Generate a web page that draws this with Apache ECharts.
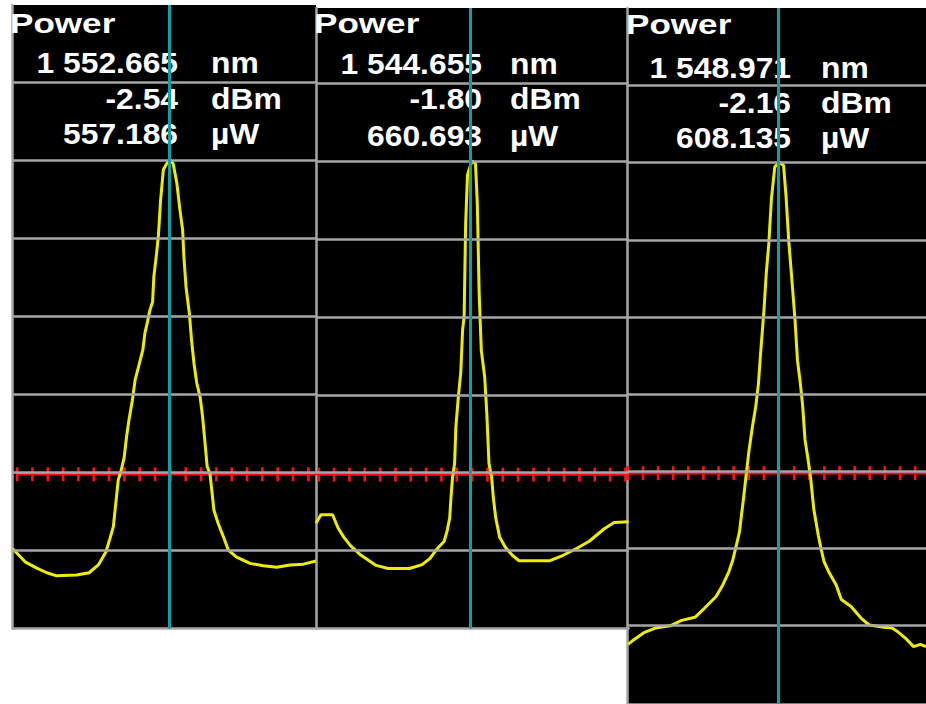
<!DOCTYPE html>
<html>
<head>
<meta charset="utf-8">
<script src="https://cdn.jsdelivr.net/npm/echarts@6/dist/echarts.min.js"></script>
<style>
  html, body { margin: 0; padding: 0; background: #ffffff; }
  #chart { width: 926px; height: 704px; }
</style>
</head>
<body>
<div id="chart"></div>
<script>
// Marker readouts for the three laser lines
const peakWavelengthNm = [1552.665, 1544.655, 1548.971];
const peakPowerDbm = [-2.54, -1.80, -2.16];
const peakPowerUw = [557.186, 660.693, 608.135];
const readoutTitle = 'Power';
const unitLabels = ['nm', 'dBm', 'µW'];

// Spectrum 1 (around 1552.665 nm)
const wavelengthP1 = [1552.150, 1552.191, 1552.229, 1552.262, 1552.294, 1552.359, 1552.400, 1552.430, 1552.455, 1552.468,
  1552.479, 1552.488, 1552.495, 1552.503, 1552.514, 1552.522, 1552.530, 1552.541, 1552.550, 1552.560,
  1552.575, 1552.582, 1552.590, 1552.598, 1552.607, 1552.611, 1552.620, 1552.626, 1552.633, 1552.642,
  1552.653, 1552.665, 1552.674, 1552.686, 1552.696, 1552.705, 1552.709, 1552.716, 1552.727, 1552.734,
  1552.742, 1552.751, 1552.762, 1552.770, 1552.778, 1552.785, 1552.794, 1552.800, 1552.807, 1552.821,
  1552.838, 1552.854, 1552.881, 1552.925, 1552.968, 1553.012, 1553.055, 1553.099, 1553.140];
const powerP1 = [-52.3, -54.0, -54.8, -55.4, -55.8, -55.7, -55.4, -54.4, -52.7, -51.0,
  -49.5, -46.1, -43.5, -42.5, -40.7, -38.0, -35.8, -33.3, -30.7, -29.2,
  -26.9, -24.7, -23.3, -21.8, -20.7, -17.5, -14.5, -12.2, -7.7, -3.8,
  -3.0, -2.54, -3.0, -5.5, -8.9, -11.5, -14.9, -18.8, -22.2, -25.6,
  -28.6, -31.1, -32.9, -35.4, -38.8, -41.8, -42.7, -44.8, -47.4, -49.1,
  -50.8, -52.5, -53.4, -54.2, -54.5, -54.7, -54.4, -54.3, -53.9];

// Spectrum 2 (around 1544.655 nm)
const wavelengthP2 = [1544.146, 1544.162, 1544.200, 1544.218, 1544.237, 1544.259, 1544.293, 1544.342, 1544.381, 1544.451,
  1544.492, 1544.518, 1544.538, 1544.564, 1544.574, 1544.582, 1544.586, 1544.591, 1544.598, 1544.602,
  1544.610, 1544.618, 1544.624, 1544.629, 1544.634, 1544.640, 1544.647, 1544.655, 1544.666, 1544.672,
  1544.678, 1544.685, 1544.696, 1544.703, 1544.710, 1544.719, 1544.724, 1544.732, 1544.745, 1544.764,
  1544.786, 1544.808, 1544.909, 1544.952, 1544.997, 1545.037, 1545.086, 1545.118, 1545.165];
const powerP2 = [-48.3, -47.2, -47.2, -48.9, -50.1, -51.2, -52.4, -53.7, -54.1, -54.1,
  -53.6, -52.8, -51.7, -50.6, -49.2, -47.6, -45.1, -42.5, -40.6, -36.0,
  -32.1, -29.0, -23.5, -21.8, -9.8, -3.6, -2.7, -1.80, -2.1, -7.2,
  -18.7, -26.1, -29.5, -34.2, -40.6, -42.5, -44.9, -47.6, -50.1, -51.4,
  -52.4, -53.1, -53.1, -52.4, -51.5, -50.6, -49.0, -48.2, -48.1];

// Spectrum 3 (around 1548.971 nm)
const wavelengthP3 = [1548.472, 1548.491, 1548.524, 1548.562, 1548.611, 1548.649, 1548.693, 1548.725, 1548.763, 1548.785,
  1548.805, 1548.818, 1548.826, 1548.840, 1548.848, 1548.856, 1548.863, 1548.872, 1548.883, 1548.894,
  1548.903, 1548.910, 1548.921, 1548.929, 1548.937, 1548.946, 1548.957, 1548.971, 1548.986, 1548.994,
  1549.003, 1549.013, 1549.024, 1549.032, 1549.041, 1549.049, 1549.057, 1549.068, 1549.076, 1549.086,
  1549.101, 1549.111, 1549.120, 1549.138, 1549.160, 1549.177, 1549.209, 1549.242, 1549.269, 1549.318,
  1549.345, 1549.361, 1549.389, 1549.416, 1549.438, 1549.457];
const powerP3 = [-64.6, -64.0, -63.1, -62.5, -62.2, -61.5, -61.1, -59.9, -58.4, -56.9,
  -55.2, -53.7, -52.4, -50.1, -47.5, -44.9, -42.4, -39.4, -36.4, -33.8,
  -30.8, -26.9, -21.4, -16.4, -12.8, -6.8, -2.7, -2.16, -2.5, -6.4,
  -12.2, -17.1, -22.6, -27.8, -30.6, -33.6, -38.1, -40.9, -43.2, -47.1,
  -50.5, -52.4, -53.9, -55.4, -56.9, -58.8, -59.7, -61.2, -62.1, -62.4,
  -62.5, -62.9, -63.8, -64.9, -64.6, -64.9];

// Ruler ticks either side of the marker, nm
const rulerOffsetsNm = [-0.50, -0.45, -0.40, -0.35, -0.30, -0.25, -0.20, -0.15, -0.10, -0.05, 0,
  0.05, 0.10, 0.15, 0.20, 0.25, 0.30, 0.35, 0.40, 0.45, 0.50];
// Graticule levels relative to the reference (peak) level, dB
const divisionLevelsDb = [10, 0, -10, -20, -30, -40, -50, -60];
const rulerLevelDb = -40.25;

const wavelengths = [wavelengthP1, wavelengthP2, wavelengthP3];
const powers = [powerP1, powerP2, powerP3];

// Screen layout of each trace window
const panels = [
  { left: 12.5, top: 5, width: 303.5, height: 623.5, xMin: 1552.150, xMax: 1553.140, above: 19.85, below: 60,
    titleX: 10, titleY: 24, numRight: 178, unitLeft: 211, rows: [63, 99, 134] },
  { left: 316, top: 8, width: 312.5, height: 620.5, xMin: 1544.146, xMax: 1545.165, above: 19.64, below: 60,
    titleX: 314, titleY: 24, numRight: 482, unitLeft: 510, rows: [64, 99, 136] },
  { left: 627.5, top: 8, width: 302.5, height: 702, xMin: 1548.470, xMax: 1549.457, above: 20.05, below: 70.18,
    titleX: 626, titleY: 25, numRight: 791, unitLeft: 821, rows: [67.5, 102.5, 138] }
];

const GRID_GREY = '#a6a6a6';
const TRACE_YELLOW = '#eded00';
const MARKER_CYAN = '#0fa0a3';
const RULER_RED = '#ff1010';
const TEXT_FONT = '"Liberation Sans", Arial, sans-serif';

function formatNm(v) {
  const parts = v.toFixed(3).split('.');
  return parts[0].replace(/\B(?=(\d{3})+(?!\d))/g, ' ') + '.' + parts[1];
}

const grids = [], xAxes = [], yAxes = [], series = [], graphics = [];

panels.forEach((p, i) => {
  const ref = peakPowerDbm[i];
  const marker = peakWavelengthNm[i];
  const yMin = ref - p.below;
  const yMax = ref + p.above;

  grids.push({
    left: p.left, top: p.top, width: p.width, height: p.height,
    show: true, backgroundColor: '#000000', borderWidth: 0, containLabel: false
  });
  xAxes.push({
    type: 'value', gridIndex: i, min: p.xMin, max: p.xMax,
    axisLine: { show: true, onZero: false, lineStyle: { color: GRID_GREY, width: 2.5 } },
    axisTick: { show: false }, axisLabel: { show: false }, splitLine: { show: false }
  });
  yAxes.push({
    type: 'value', gridIndex: i, min: yMin, max: yMax,
    axisLine: { show: true, onZero: false, lineStyle: { color: GRID_GREY, width: 2.5 } },
    axisTick: { show: false }, axisLabel: { show: false }, splitLine: { show: false }
  });

  const gridLevels = divisionLevelsDb
    .map(d => ref + d)
    .filter(v => v > yMin + 0.01 && v < yMax);

  // horizontal graticule
  series.push({
    type: 'line', xAxisIndex: i, yAxisIndex: i, data: [], z: 1, silent: true,
    markLine: {
      silent: true, symbol: ['none', 'none'], label: { show: false }, animation: false,
      lineStyle: { type: 'solid', color: GRID_GREY, width: 2.5 },
      emphasis: { disabled: true },
      data: gridLevels.map(v => ({ yAxis: v }))
    }
  });

  // red ruler line with ticks
  const rulerY = ref + rulerLevelDb;
  series.push({
    type: 'line', xAxisIndex: i, yAxisIndex: i, z: 2, silent: true, clip: true,
    showSymbol: false, symbol: 'none',
    lineStyle: { color: RULER_RED, width: 2.5 },
    data: [[marker + rulerOffsetsNm[0], rulerY], [marker + rulerOffsetsNm[rulerOffsetsNm.length - 1], rulerY]]
  });
  series.push({
    type: 'scatter', xAxisIndex: i, yAxisIndex: i, z: 2, silent: true, clip: true,
    symbol: 'rect', symbolSize: [2.6, 14],
    itemStyle: { color: RULER_RED, opacity: 1 },
    data: rulerOffsetsNm.map(o => [marker + o, rulerY])
  });

  // spectrum trace
  series.push({
    type: 'line', xAxisIndex: i, yAxisIndex: i, z: 3, silent: true, clip: true,
    showSymbol: false, symbol: 'none',
    lineStyle: { color: TRACE_YELLOW, width: 3 },
    data: wavelengths[i].map((w, k) => [w, powers[i][k]])
  });

  // wavelength marker
  series.push({
    type: 'line', xAxisIndex: i, yAxisIndex: i, data: [], z: 5, silent: true,
    markLine: {
      silent: true, symbol: ['none', 'none'], label: { show: false }, animation: false,
      lineStyle: { type: 'solid', color: MARKER_CYAN, width: 3 },
      emphasis: { disabled: true },
      data: [{ xAxis: marker }]
    }
  });

  // readout text
  graphics.push({
    type: 'text', x: p.titleX, y: p.titleY, scaleX: 1.3, z: 4, silent: true,
    style: { text: readoutTitle, font: 'bold 27px ' + TEXT_FONT, fill: '#ffffff', align: 'left', verticalAlign: 'middle' }
  });
  const values = [formatNm(marker), ref.toFixed(2), peakPowerUw[i].toFixed(3)];
  values.forEach((txt, r) => {
    graphics.push({
      type: 'text', x: p.numRight, y: p.rows[r], scaleX: 1.06, z: 4, silent: true,
      style: { text: txt, font: 'bold 30px ' + TEXT_FONT, fill: '#ffffff', align: 'right', verticalAlign: 'middle' }
    });
    graphics.push({
      type: 'text', x: p.unitLeft, y: p.rows[r], scaleX: 1.06, z: 4, silent: true,
      style: { text: unitLabels[r], font: 'bold 30px ' + TEXT_FONT, fill: '#ffffff', align: 'left', verticalAlign: 'middle' }
    });
  });
});

const chart = echarts.init(document.getElementById('chart'), null, { renderer: 'svg' });
chart.setOption({
  animation: false,
  backgroundColor: '#ffffff',
  grid: grids,
  xAxis: xAxes,
  yAxis: yAxes,
  series: series,
  graphic: { elements: graphics }
});
</script>
</body>
</html>
